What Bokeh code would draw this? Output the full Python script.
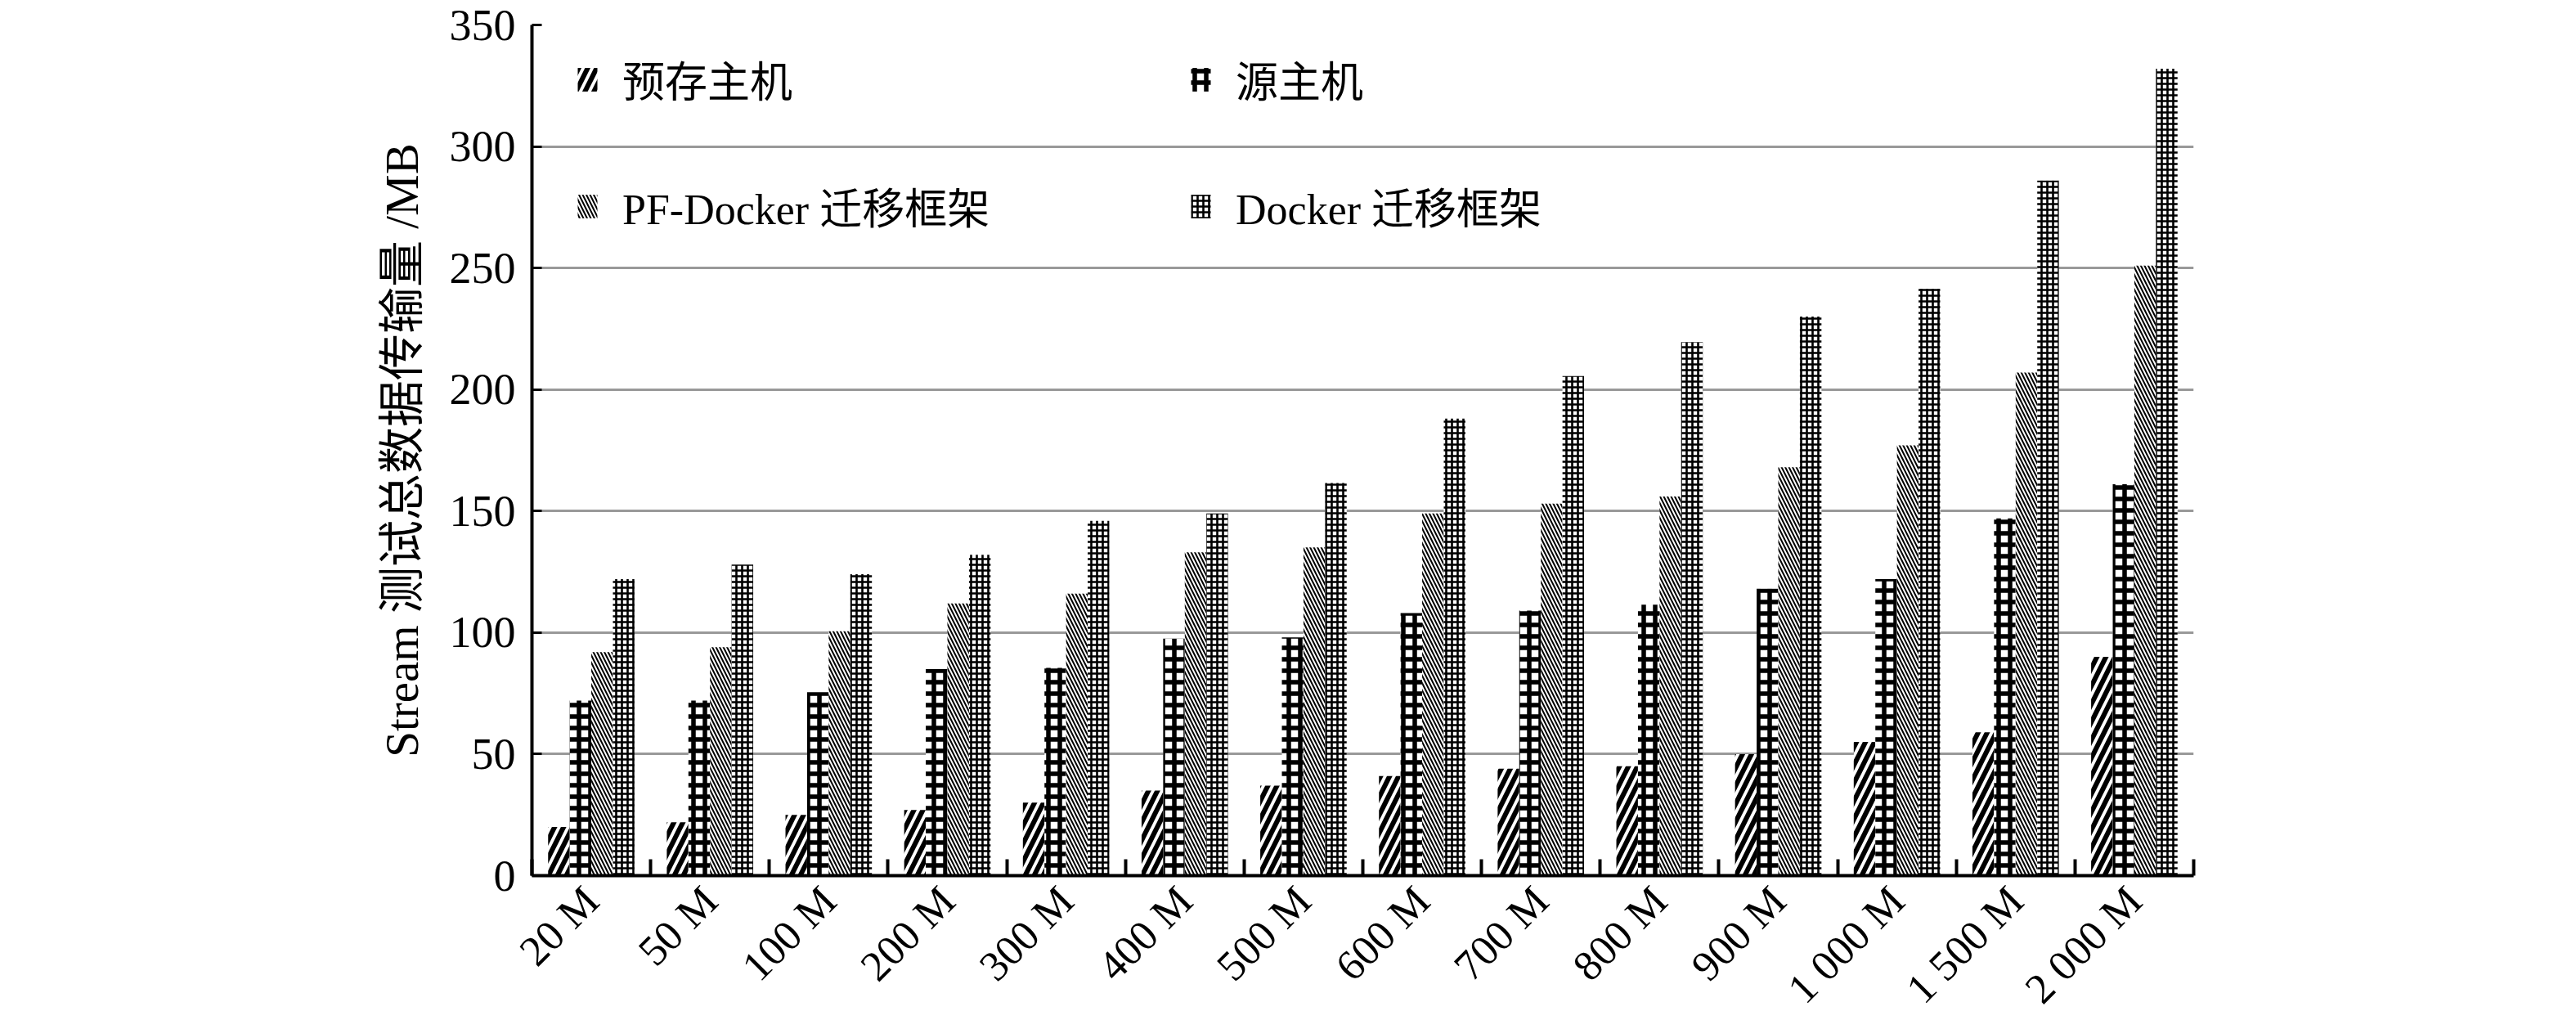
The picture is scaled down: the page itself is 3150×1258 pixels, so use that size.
import math
from bokeh.plotting import figure
from bokeh.models import (ColumnDataSource, FixedTicker, Legend, LegendItem, Range1d)
from bokeh.transform import dodge
from bokeh.embed import file_html
from bokeh.resources import INLINE

# ---------------- data ----------------
categories = ["20 M", "50 M", "100 M", "200 M", "300 M", "400 M", "500 M",
              "600 M", "700 M", "800 M", "900 M", "1 000 M", "1 500 M", "2 000 M"]
prestore_host = [20, 22, 25, 27, 30, 35, 37, 41, 44, 45, 50, 55, 59, 90]
source_host = [72, 72, 75.5, 85, 85.5, 97.5, 98, 108, 109, 111.5, 118, 122, 147, 161]
pf_docker = [92, 94, 100.5, 112, 116, 133, 135, 149, 153, 156, 168, 177, 207, 251]
docker = [122, 128, 124, 132, 146, 149, 161.5, 188, 205.5, 219.5, 230, 241.5, 286, 332]
series_names = ["预存主机", "源主机", "PF-Docker 迁移框架", "Docker 迁移框架"]
y_ticks = [0, 50, 100, 150, 200, 250, 300, 350]
y_label = "Stream 测试总数据传输量 /MB"

FONT = "'Liberation Serif', 'Noto Sans CJK SC', serif"
FS = "52px"

n = len(categories)
src = ColumnDataSource(dict(
    xc=[i + 0.5 for i in range(n)],
    s0=prestore_host, s1=source_host, s2=pf_docker, s3=docker,
))

FRAME_H = 1040
p = figure(frame_width=2032, frame_height=FRAME_H,
           x_range=Range1d(0, n), y_range=Range1d(0, 350),
           output_backend="svg", toolbar_location=None,
           min_border_left=650, min_border_right=460,
           min_border_top=30, min_border_bottom=170)
p.outline_line_color = None
p.background_fill_color = "white"

styles = [
    dict(hatch_pattern="/", hatch_scale=22, hatch_weight=6),
    dict(hatch_pattern="+", hatch_scale=14, hatch_weight=5.5),
    dict(hatch_pattern="\\", hatch_scale=9, hatch_weight=2),
    dict(hatch_pattern="+", hatch_scale=7, hatch_weight=2.6),
]

w = 0.182
renderers = []
for j, col in enumerate(["s0", "s1", "s2", "s3"]):
    r = p.vbar(x=dodge("xc", (j - 1.5) * w, range=p.x_range), top=col,
               width=w, bottom=0, source=src,
               fill_color="white", line_color=None, hatch_color="black",
               **styles[j])
    renderers.append(r)

# axes
xa = p.xaxis[0]
xa.ticker = FixedTicker(ticks=[i + 0.5 for i in range(n)],
                        minor_ticks=list(range(n + 1)))
xa.major_label_overrides = {i + 0.5: c for i, c in enumerate(categories)}
xa.major_tick_in = 0
xa.major_tick_out = 0
xa.minor_tick_in = 20
xa.minor_tick_out = 0
xa.minor_tick_line_color = "black"
xa.minor_tick_line_width = 4
xa.axis_line_width = 4
xa.axis_line_color = "black"
xa.major_label_orientation = math.pi / 4
xa.major_label_text_font = FONT
xa.major_label_text_font_size = FS
xa.major_label_text_color = "black"
xa.major_label_standoff = 22

ya = p.yaxis[0]
ya.ticker = FixedTicker(ticks=y_ticks, minor_ticks=[])
ya.major_tick_in = 12
ya.major_tick_out = 0
ya.major_tick_line_width = 3
ya.major_tick_line_color = "black"
ya.axis_line_width = 4
ya.axis_line_color = "black"
ya.major_label_text_font = FONT
ya.major_label_text_font_size = "54px"
ya.major_label_text_color = "black"
ya.major_label_standoff = 20
ya.axis_label = y_label
ya.axis_label_text_font = FONT
ya.axis_label_text_font_size = "57px"
ya.axis_label_text_font_style = "normal"
ya.axis_label_text_color = "black"
ya.axis_label_standoff = 24

p.xgrid.visible = False
p.ygrid.ticker = FixedTicker(ticks=y_ticks, minor_ticks=[])
p.ygrid.grid_line_color = "#999999"
p.ygrid.grid_line_width = 3

LEG_H_EST = 333
legend = Legend(items=[LegendItem(label=series_names[j], renderers=[renderers[j]])
                       for j in range(4)],
                location=(5, FRAME_H + 26 - LEG_H_EST),
                orientation="horizontal", ncols=2,
                border_line_color="white", border_line_alpha=0,
                background_fill_alpha=0,
                label_text_font=FONT, label_text_font_size=FS,
                label_text_color="black",
                label_width=612, label_height=60,
                glyph_width=30, glyph_height=36, label_standoff=28,
                spacing=80, padding=48, margin=0)
p.add_layout(legend)

open("out.html", "w").write(file_html(p, INLINE))
